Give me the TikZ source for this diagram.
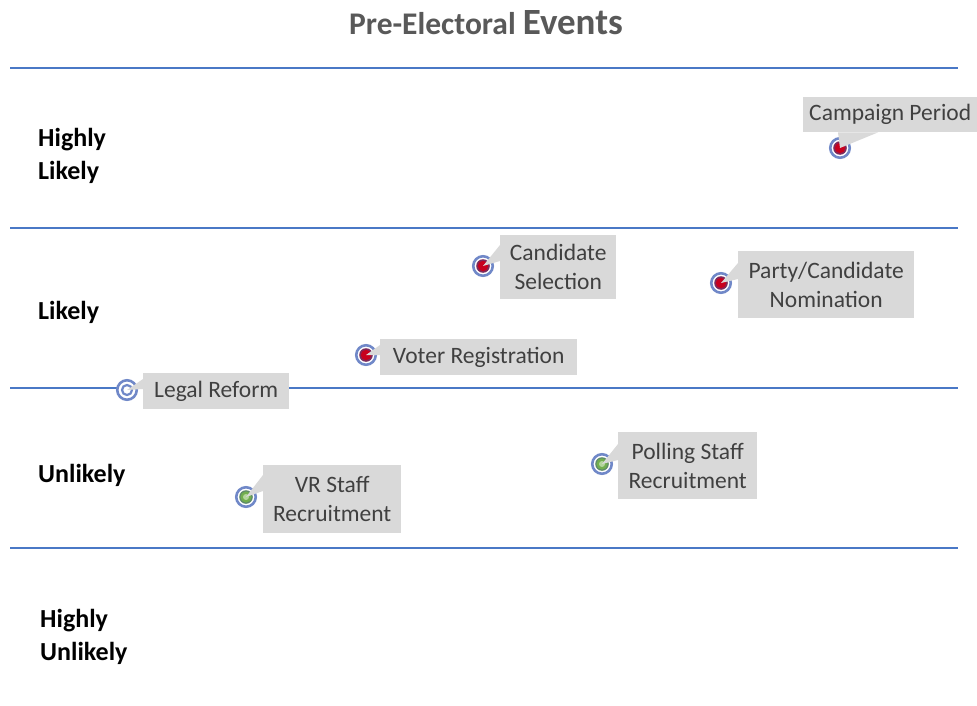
\documentclass[tikz,border=0pt]{standalone}
\usepackage{fontspec}
\setmainfont{Carlito}
\definecolor{bandblue}{HTML}{4A78C6}
\definecolor{calloutgray}{HTML}{D9D9D9}
\definecolor{labelgray}{HTML}{404040}
\definecolor{titlegray}{HTML}{595959}
\definecolor{ringblue}{HTML}{7088C8}
\definecolor{markred}{HTML}{C8001E}
\definecolor{markmaroon}{HTML}{7E2A5A}
\definecolor{markgreen}{HTML}{72AE4E}
\definecolor{lightgreen}{HTML}{B4D69C}
\definecolor{darkgreen}{HTML}{5F8A6A}
\begin{document}
\begin{tikzpicture}[x=1pt,y=-1pt,
  band/.style={draw=bandblue, line width=1.6pt},
  level/.style={font=\fontsize{26}{33}\selectfont\bfseries, align=left, inner sep=0pt, anchor=west},
  callout/.style={fill=calloutgray, text=labelgray, font=\fontsize{23.5}{29}\selectfont,
    align=center, inner sep=0pt, anchor=north west},
  tail/.style={fill=calloutgray},
  eventdot/.style={circle, minimum size=19.5pt, inner sep=0pt, draw=ringblue, line width=2.6pt, fill=white},
  redmark/.style={eventdot, path picture={
      \fill[markmaroon] (path picture bounding box.center) circle (6.8);
      \fill[markred] (path picture bounding box.center) circle (5.2);}},
  greenmark/.style={eventdot, path picture={
      \fill[darkgreen] (path picture bounding box.center) circle (6.8);
      \fill[markgreen] (path picture bounding box.center) circle (5.6);
      \fill[lightgreen] (path picture bounding box.center) circle (3);}},
  bluemark/.style={eventdot, path picture={
      \draw[ringblue, line width=2.2pt] (path picture bounding box.center) circle (5);}}
]
\useasboundingbox (0,0) rectangle (977,706);

% title
\node[anchor=base, text=titlegray, inner sep=0pt] (title) at (486,35)
  {\fontsize{31.5}{36}\selectfont\bfseries Pre-Electoral \fontsize{37}{40}\selectfont Events};

% band separators
\coordinate (l1) at (10,68);  \coordinate (r1) at (958,68);
\coordinate (l2) at (10,228); \coordinate (r2) at (958,228);
\coordinate (l3) at (10,388); \coordinate (r3) at (958,388);
\coordinate (l4) at (10,548); \coordinate (r4) at (958,548);
\draw[band] (l1) -- (r1);
\draw[band] (l2) -- (r2);
\draw[band] (l3) -- (r3);
\draw[band] (l4) -- (r4);

% likelihood levels
\node[level] (hl) at (38,156) {Highly\\Likely};
\node[level] (li) at (38,312) {Likely};
\node[level] (ul) at (38,475) {Unlikely};
\node[level] (hu) at (40,637) {Highly\\Unlikely};

% event markers
\node[redmark]   (mcp) at (840,148) {};
\node[redmark]   (mcs) at (483,266) {};
\node[redmark]   (mpn) at (721,283) {};
\node[redmark]   (mvr) at (366,355) {};
\node[bluemark]  (mlr) at (127,390) {};
\node[greenmark] (mvs) at (246,497) {};
\node[greenmark] (mps) at (602,464) {};

% callout boxes
\node[callout, minimum width=174pt, minimum height=35pt] (cp) at (803,97) {Campaign Period};
\node[callout, minimum width=116pt, minimum height=64pt] (cs) at (500,235) {Candidate\\Selection};
\node[callout, minimum width=176pt, minimum height=67pt] (pn) at (738,251) {Party/Candidate\\Nomination};
\node[callout, minimum width=197pt, minimum height=36pt] (vr) at (380,339) {Voter Registration};
\node[callout, minimum width=146pt, minimum height=36pt] (lr) at (143,373) {Legal Reform};
\node[callout, minimum width=138pt, minimum height=68pt] (vs) at (263,465) {VR Staff\\Recruitment};
\node[callout, minimum width=139pt, minimum height=67pt] (ps) at (618,432) {Polling Staff\\Recruitment};

% callout pointers
\fill[tail] ([xshift=35pt]cp.south west) -- (mcp.center) -- ([xshift=75pt]cp.south west) -- cycle;
\fill[tail] ([yshift=-10pt]cs.north west) -- (mcs.center) -- ([yshift=-26pt]cs.north west) -- cycle;
\fill[tail] ([yshift=-12pt]pn.north west) -- (mpn.center) -- ([yshift=-28pt]pn.north west) -- cycle;
\fill[tail] ([yshift=-6pt]vr.north west) -- (mvr.center) -- ([yshift=-16pt]vr.north west) -- cycle;
\fill[tail] ([yshift=-6pt]lr.north west) -- (mlr.center) -- ([yshift=-16pt]lr.north west) -- cycle;
\fill[tail] ([yshift=-10pt]vs.north west) -- (mvs.center) -- ([yshift=-26pt]vs.north west) -- cycle;
\fill[tail] ([yshift=-12pt]ps.north west) -- (mps.center) -- ([yshift=-28pt]ps.north west) -- cycle;
\end{tikzpicture}
\end{document}
